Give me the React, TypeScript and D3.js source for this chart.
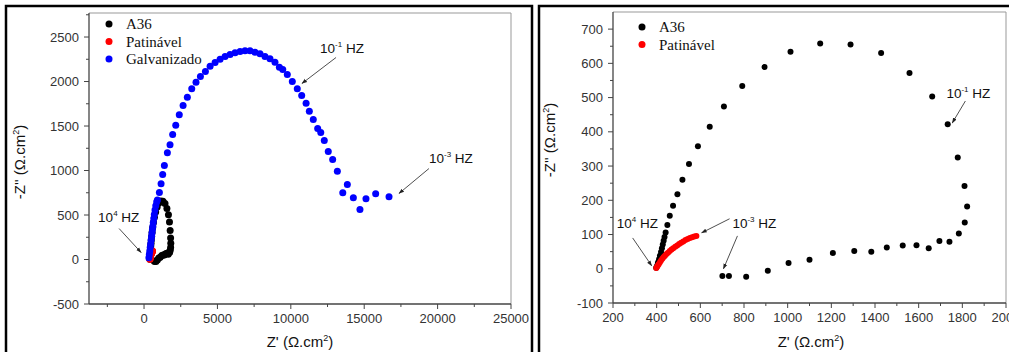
import React from "react";
import * as d3 from "d3";

type P = [number, number];

// A36 (black) - same series on both charts
const a36: P[] = [
  [398, 3], [402, 9], [406, 18], [411, 28], [415, 38], [420, 49], [424, 60], [428, 71],
  [432, 82], [436, 93], [441, 106], [449, 128], [460, 155], [475, 184], [495, 218],
  [518, 260], [548, 306], [589, 358], [643, 415], [708, 474], [792, 534], [894, 589],
  [1013, 634], [1149, 658], [1288, 655], [1428, 630], [1558, 572], [1662, 503],
  [1733, 422], [1779, 325], [1810, 242], [1822, 182], [1811, 135], [1784, 103],
  [1741, 79], [1695, 81], [1646, 60], [1590, 69], [1527, 68], [1454, 62], [1383, 50],
  [1305, 52], [1207, 46], [1100, 26], [1004, 17], [909, -6], [810, -23], [731, -21], [701, -21],
];

// Patinável (red)
const patinavel: P[] = [
  [398, 2], [402, 6], [406, 10], [410, 14], [415, 19], [420, 24], [426, 29], [432, 34],
  [438, 38], [445, 43], [452, 47], [460, 52], [468, 56], [476, 60], [485, 64], [494, 68],
  [503, 72], [512, 76], [522, 80], [532, 84], [542, 87], [552, 90], [562, 92], [572, 94], [582, 96],
];

// Galvanizado (blue) - left chart only
const galvanizado: P[] = [
  [330, 20], [360, 55], [390, 95], [420, 135], [450, 175], [480, 215], [510, 255],
  [540, 295], [570, 335], [600, 375], [630, 415], [665, 460], [700, 505], [745, 555],
  [800, 605], [860, 645], [910, 670], [1045, 752], [1160, 850], [1270, 955],
  [1385, 1056], [1590, 1199], [1770, 1289], [1950, 1404], [2160, 1509], [2400, 1626],
  [2660, 1730], [2950, 1824], [3250, 1918], [3540, 1993], [3840, 2056], [4180, 2112],
  [4500, 2172], [4840, 2213], [5180, 2250], [5520, 2281], [5860, 2303], [6200, 2322],
  [6540, 2337], [6880, 2345], [7220, 2345], [7560, 2330], [7900, 2311], [8240, 2281],
  [8580, 2255], [8920, 2217], [9220, 2161], [9450, 2135], [9760, 2079], [10100, 2000],
  [10440, 1918], [10740, 1843], [11040, 1756], [11260, 1666], [11530, 1573],
  [11830, 1472], [12040, 1427], [12280, 1337], [12550, 1213], [12850, 1124],
  [13170, 992], [13850, 843], [13540, 749], [14260, 693], [14710, 562], [15120, 682],
  [15780, 738], [16690, 704],
];

const leftXTicks = [0, 5000, 10000, 15000, 20000, 25000];
const leftYTicks = [-500, 0, 500, 1000, 1500, 2000, 2500];
const rightXTicks = [200, 400, 600, 800, 1000, 1200, 1400, 1600, 1800, 2000];
const rightYTicks = [-100, 0, 100, 200, 300, 400, 500, 600, 700];

type Series = { name: string; color: string; data: P[] };
type Note = { exp: string; text: P; arrows: [P, P][] };

const leftSeries: Series[] = [
  { name: "A36", color: "#000", data: a36 },
  { name: "Patinável", color: "#f00", data: patinavel },
  { name: "Galvanizado", color: "#00f", data: galvanizado },
];
const rightSeries: Series[] = [
  { name: "A36", color: "#000", data: a36 },
  { name: "Patinável", color: "#f00", data: patinavel },
];

const leftNotes: Note[] = [
  { exp: "-1", text: [11990, 2315], arrows: [[[13080, 2270], [10760, 1978]]] },
  { exp: "-3", text: [19410, 1090], arrows: [[[19410, 1022], [17370, 742]]] },
  { exp: "4", text: [-3130, 427], arrows: [[[-1700, 348], [-200, 79]]] },
];
const rightNotes: Note[] = [
  { exp: "-1", text: [1727, 499], arrows: [[[1814, 490], [1754, 426]]] },
  { exp: "4", text: [217, 120], arrows: [[[290, 90], [377, 9]]] },
  { exp: "-3", text: [747, 120], arrows: [[[734, 146], [606, 105]], [[770, 96], [706, 0]]] },
];

const SANS = "'Liberation Sans', Arial, sans-serif";
const SERIF = "'Liberation Serif', 'Times New Roman', serif";

type ChartProps = {
  id: string;
  x0: number; x1: number; y0: number; y1: number;
  xDomain: [number, number]; yDomain: [number, number];
  xTicks: number[]; yTicks: number[]; xMinor: number; yMinor: number;
  series: Series[]; notes: Note[]; r: number;
  legend: P; ylabelPos: P; xlabelX: number;
};

const Chart = (p: ChartProps) => {
  const x = d3.scaleLinear().domain(p.xDomain).range([p.x0, p.x1]);
  const y = d3.scaleLinear().domain(p.yDomain).range([p.y1, p.y0]);
  const xMinor = d3.range(Math.ceil(p.xDomain[0] / p.xMinor) * p.xMinor, p.xDomain[1] + 1, p.xMinor)
    .filter((v) => !p.xTicks.includes(v));
  const yMinor = d3.range(Math.ceil(p.yDomain[0] / p.yMinor) * p.yMinor, p.yDomain[1], p.yMinor)
    .filter((v) => !p.yTicks.includes(v));
  const axisColor = "#444";
  return (
    <g>
      <line x1={p.x0} x2={p.x1} y1={p.y0} y2={p.y0} stroke="#999" strokeWidth={1} />
      <line x1={p.x1} x2={p.x1} y1={p.y0} y2={p.y1} stroke="#999" strokeWidth={1} />
      <line x1={p.x0} x2={p.x1} y1={p.y1} y2={p.y1} stroke={axisColor} strokeWidth={1.3} />
      <line x1={p.x0} x2={p.x0} y1={p.y0} y2={p.y1} stroke={axisColor} strokeWidth={1.3} />
      {p.xTicks.map((t) => (
        <g key={"xt" + t}>
          <line x1={x(t)} x2={x(t)} y1={p.y1} y2={p.y1 + 5} stroke={axisColor} />
          <text x={x(t)} y={p.y1 + 19} textAnchor="middle" fontFamily={SANS} fontSize={13} fill="#333">{t}</text>
        </g>
      ))}
      {xMinor.map((t) => (
        <line key={"xm" + t} x1={x(t)} x2={x(t)} y1={p.y1} y2={p.y1 + 3} stroke={axisColor} />
      ))}
      {p.yTicks.map((t) => (
        <g key={"yt" + t}>
          <line x1={p.x0 - 5} x2={p.x0} y1={y(t)} y2={y(t)} stroke={axisColor} />
          <text x={p.x0 - 10} y={y(t) + 4.5} textAnchor="end" fontFamily={SANS} fontSize={13} fill="#333">{t}</text>
        </g>
      ))}
      {yMinor.map((t) => (
        <line key={"ym" + t} x1={p.x0 - 3} x2={p.x0} y1={y(t)} y2={y(t)} stroke={axisColor} />
      ))}
      {p.series.map((s) => (
        <g key={s.name}>
          {s.data.map((d, i) => (
            <circle key={i} cx={x(d[0])} cy={y(d[1])} r={p.r} fill={s.color} />
          ))}
        </g>
      ))}
      {p.notes.map((n, i) => (
        <g key={"n" + i}>
          <text x={x(n.text[0])} y={y(n.text[1])} fontFamily={SANS} fontSize={13.5} fill="#111">
            10<tspan fontSize={8} dy={-6}>{n.exp}</tspan><tspan dy={6}> HZ</tspan>
          </text>
          {n.arrows.map((a, j) => (
            <line key={j} x1={x(a[0][0])} y1={y(a[0][1])} x2={x(a[1][0])} y2={y(a[1][1])}
              stroke="#222" strokeWidth={0.8} markerEnd={`url(#ah-${p.id})`} />
          ))}
        </g>
      ))}
      {p.series.map((s, i) => (
        <g key={"lg" + s.name}>
          <circle cx={p.legend[0]} cy={p.legend[1] + i * 17.5} r={3.5} fill={s.color} />
          <text x={p.legend[0] + 17} y={p.legend[1] + i * 17.5 + 5} fontFamily={SERIF} fontSize={15} fill="#111">{s.name}</text>
        </g>
      ))}
      <text x={p.xlabelX} y={347} textAnchor="middle" fontFamily={SANS} fontSize={15} fill="#111">
        Z' (Ω.cm<tspan fontSize={9} dy={-6}>2</tspan><tspan dy={6}>)</tspan>
      </text>
      <text transform={`translate(${p.ylabelPos[0]},${p.ylabelPos[1]}) rotate(-90)`} textAnchor="middle"
        fontFamily={SANS} fontSize={15} fill="#111">
        -Z'' (Ω.cm<tspan fontSize={9} dy={-6}>2</tspan><tspan dy={6}>)</tspan>
      </text>
    </g>
  );
};

export default function App() {
  return (
    <svg width={1009} height={352} style={{ position: "absolute", left: 0, top: 0, background: "#fff" }}>
      <defs>
        {["l", "r"].map((id) => (
          <marker key={id} id={`ah-${id}`} viewBox="0 0 10 10" refX={9} refY={5} markerWidth={7} markerHeight={7} orient="auto">
            <path d="M0,1.5 L10,5 L0,8.5 Z" fill="#222" />
          </marker>
        ))}
      </defs>
      <rect x={0} y={0} width={1009} height={352} fill="#fff" />
      <path d="M6,360 V6 H532 V360" fill="none" stroke="#000" strokeWidth={2.5} />
      <path d="M539,360 V6 H1015" fill="none" stroke="#000" strokeWidth={2.5} />
      <Chart id="l" x0={89} x1={511} y0={13} y1={304}
        xDomain={[-3750, 25000]} yDomain={[-500, 2770]}
        xTicks={leftXTicks} yTicks={leftYTicks} xMinor={2500} yMinor={250}
        series={leftSeries} notes={leftNotes} r={3.5}
        legend={[109, 24]} ylabelPos={[25, 162]} xlabelX={300} />
      <Chart id="r" x0={613} x1={1006} y0={12} y1={303}
        xDomain={[200, 2000]} yDomain={[-100, 750]}
        xTicks={rightXTicks} yTicks={rightYTicks} xMinor={100} yMinor={50}
        series={rightSeries} notes={rightNotes} r={3}
        legend={[642, 27]} ylabelPos={[555, 140]} xlabelX={811} />
    </svg>
  );
}
